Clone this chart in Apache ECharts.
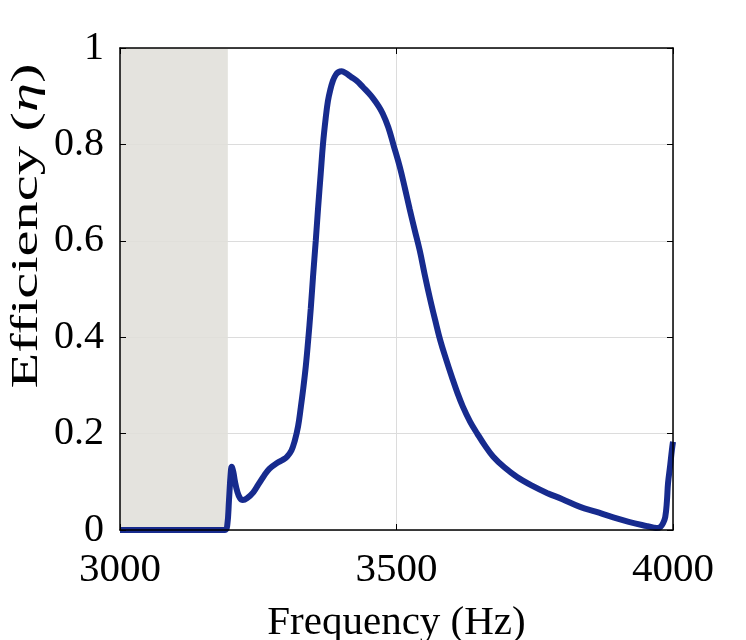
<!DOCTYPE html>
<html>
<head>
<meta charset="utf-8">
<script src="https://cdn.jsdelivr.net/npm/echarts@6/dist/echarts.min.js"></script>
<style>
  html, body { margin: 0; padding: 0; background: #fff; }
  #chart { width: 746px; height: 640px; }
</style>
</head>
<body>
<div id="chart"></div>
<script>
// frequency (Hz)
const freq = [
  3000, 3050, 3100, 3150, 3190, 3194, 3197, 3200, 3202, 3205,
  3208, 3212, 3217, 3222, 3230, 3241, 3250, 3259, 3270, 3284,
  3295, 3302, 3310, 3316, 3322, 3327, 3331, 3336, 3340, 3345,
  3349, 3354, 3358, 3363, 3367, 3372, 3376, 3380, 3385, 3390,
  3395, 3401, 3408, 3418, 3428, 3440, 3450, 3458, 3466, 3475,
  3485, 3495, 3506, 3515, 3524, 3533, 3542, 3551, 3561, 3570,
  3579, 3590, 3600, 3610, 3620, 3633, 3646, 3660, 3675, 3695,
  3718, 3745, 3772, 3800, 3832, 3860, 3892, 3920, 3953, 3965,
  3971, 3977, 3982, 3986, 3989, 3991, 3995, 3998, 4000
]
// efficiency
const eta = [
  0, 0, 0, 0, 0, 0.01, 0.06, 0.115, 0.131, 0.12,
  0.10, 0.08, 0.066, 0.062, 0.066, 0.078, 0.094, 0.11, 0.127, 0.139,
  0.146, 0.152, 0.165, 0.185, 0.215, 0.255, 0.29, 0.34, 0.39, 0.46,
  0.525, 0.60, 0.665, 0.74, 0.80, 0.855, 0.89, 0.912, 0.932, 0.944,
  0.95, 0.952, 0.948, 0.94, 0.932, 0.918, 0.906, 0.895, 0.882, 0.864,
  0.836, 0.797, 0.753, 0.71, 0.665, 0.622, 0.58, 0.53, 0.478, 0.435,
  0.394, 0.353, 0.318, 0.285, 0.256, 0.225, 0.20, 0.175, 0.152, 0.13,
  0.11, 0.092, 0.077, 0.064, 0.048, 0.038, 0.026, 0.017, 0.008, 0.005,
  0.004, 0.006, 0.014, 0.027, 0.06, 0.097, 0.135, 0.166, 0.183
]
// shaded band (Hz)
const band = [3000, 3195]
const xTicks = [3000, 3500, 4000]
const yTicks = [0, 0.2, 0.4, 0.6, 0.8, 1]

const font = "'Liberation Serif', 'Times New Roman', serif"
const chart = echarts.init(document.getElementById('chart'))

// 边框轴（画在最上层）
const frameAxis = (pos, extra) => Object.assign({
  type: 'value',
  position: pos,
  z: 10,
  axisLine: { show: true, onZero: false, lineStyle: { color: '#000', width: 1.5 } },
  axisTick: { show: true, inside: true, length: 6, lineStyle: { color: '#000', width: 1 } },
  axisLabel: { show: false },
  splitLine: { show: false }
}, extra)

// 网格线轴（画在最下层）
const gridAxis = (pos, extra) => Object.assign({
  type: 'value',
  position: pos,
  z: 0,
  axisLine: { show: false },
  axisTick: { show: false },
  axisLabel: { show: false },
  splitLine: { show: true, lineStyle: { color: '#dcdcdc', width: 1 } }
}, extra)

const xRange = { min: xTicks[0], max: xTicks[xTicks.length - 1], interval: 500 }
const yRange = { min: yTicks[0], max: yTicks[yTicks.length - 1], interval: 0.2 }

chart.setOption({
  animation: false,
  backgroundColor: '#fff',
  grid: { left: 120, right: 73, top: 48, bottom: 110, outerBoundsMode: 'none', containLabel: false },
  xAxis: [
    frameAxis('bottom', Object.assign({
      axisLabel: {
        show: true, margin: 20, fontSize: 41, fontFamily: font, color: '#000',
        formatter: v => String(v)
      },
      name: 'Frequency (Hz)',
      nameLocation: 'middle',
      nameGap: 73,
      nameTextStyle: { fontSize: 41, fontFamily: font, color: '#000' }
    }, xRange)),
    frameAxis('top', xRange),
    gridAxis('bottom', xRange)
  ],
  yAxis: [
    frameAxis('left', Object.assign({
      axisLabel: { show: true, margin: 16, fontSize: 40, fontFamily: font, color: '#000' }
    }, yRange)),
    frameAxis('right', yRange),
    gridAxis('left', yRange)
  ],
  graphic: [
    {
      type: 'text',
      x: 27,
      y: 226,
      rotation: Math.PI / 2,
      scaleX: 1.58,
      style: {
        text: 'Efficiency ({i|η})',
        fontSize: 37,
        fontFamily: font,
        fill: '#000',
        align: 'center',
        verticalAlign: 'middle',
        rich: {
          i: { fontStyle: 'italic', fontSize: 37, fontFamily: font, fill: '#000' }
        }
      }
    }
  ],
  series: [
    {
      type: 'line',
      xAxisIndex: 0,
      yAxisIndex: 0,
      data: freq.map((f, i) => [f, eta[i]]),
      showSymbol: false,
      smooth: 0.4,
      lineStyle: { color: '#172b8e', width: 6 },
      markArea: {
        silent: true,
        itemStyle: { color: 'rgba(224,223,217,0.88)' },
        data: [[{ xAxis: band[0] }, { xAxis: band[1] }]]
      }
    }
  ]
})
</script>
</body>
</html>
